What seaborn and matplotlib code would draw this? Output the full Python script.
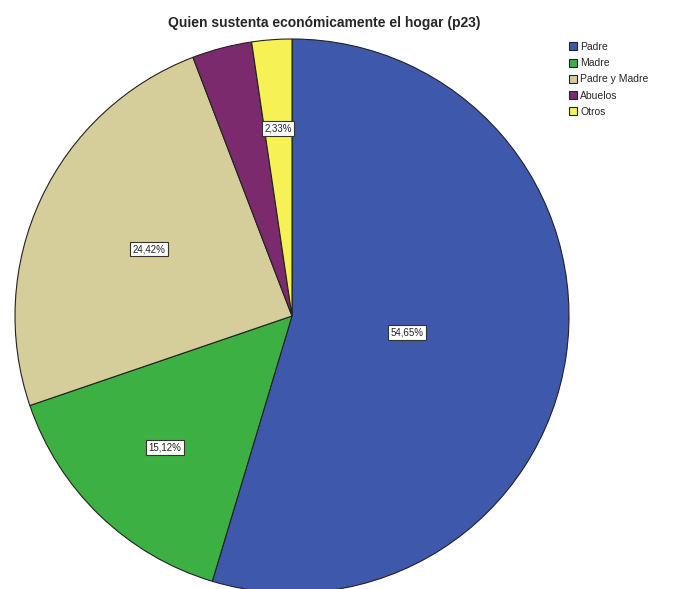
import matplotlib
matplotlib.use("Agg")
import matplotlib.pyplot as plt
import numpy as np
import seaborn as sns

# datos (p23)
categorias = ['Padre', 'Madre', 'Padre y Madre', 'Abuelos', 'Otros']
porcentajes = [54.65, 15.12, 24.42, 3.49, 2.33]
etiquetas = ['54,65%', '15,12%', '24,42%', '', '2,33%']
colores = ['#3e58ac', '#3db043', '#d5cd9a', '#7c2a6e', '#f6f155']

sns.set_style("white")
plt.rcParams['font.family'] = ['Liberation Sans', 'DejaVu Sans']

fig = plt.figure(figsize=(6.76, 5.89), dpi=100)
# centro del pastel ~ (292, 316) px, radio ~ 277 px
ax = fig.add_axes([15 / 676, (589 - 316 - 277) / 589, 554 / 676, 554 / 589])

wedges, _ = ax.pie(porcentajes, colors=colores, startangle=90, counterclock=False,
                   radius=1.0, wedgeprops=dict(edgecolor='#222222', linewidth=0.8))

# distancia radial de cada etiqueta
dist = [0.42, 0.66, 0.57, 0.6, 0.68]
for w, txt, d in zip(wedges, etiquetas, dist):
    if not txt:
        continue
    ang = np.deg2rad((w.theta1 + w.theta2) / 2)
    ax.text(d * np.cos(ang), d * np.sin(ang), txt, ha='center', va='center', fontsize=7,
            color='#222222',
            bbox=dict(boxstyle='square,pad=0.25', facecolor='white', edgecolor='#333333', linewidth=0.8))

ax.set_xlim(-1, 1)
ax.set_ylim(-1, 1)
ax.set_aspect('equal')
ax.axis('off')

fig.text(324 / 676, 1 - 23 / 589, 'Quien sustenta económicamente el hogar (p23)',
         ha='center', va='center', fontsize=10, fontweight='bold')

leg = fig.legend(wedges, categorias, loc='upper left', bbox_to_anchor=(569 / 676, 1 - 42 / 589),
                 frameon=False, fontsize=7.5, handlelength=0.8, handleheight=0.8,
                 handletextpad=0.3, labelspacing=0.6, borderaxespad=0, borderpad=0)

fig.savefig('out.png', dpi=100, facecolor='white')
